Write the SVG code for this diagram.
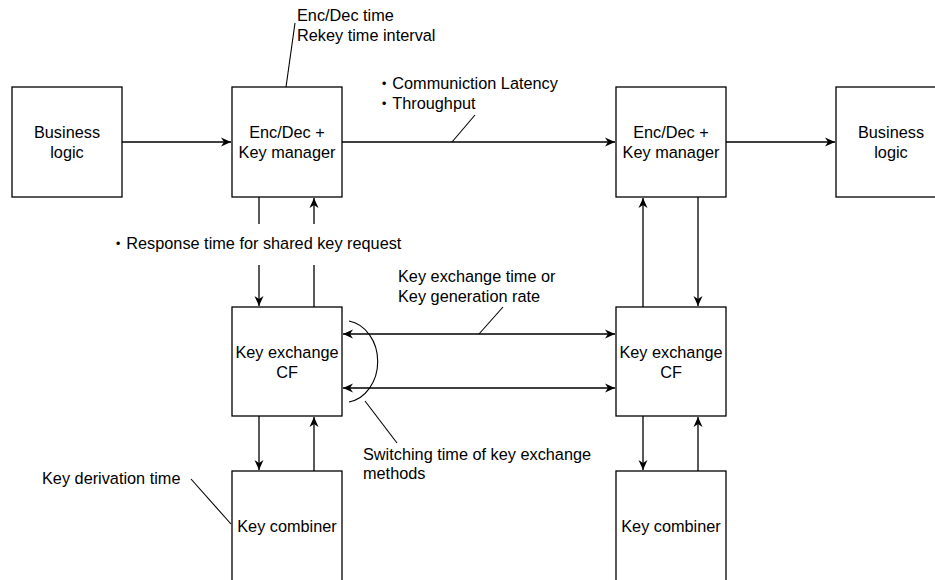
<svg xmlns="http://www.w3.org/2000/svg" width="935" height="580" viewBox="0 0 935 580">
<style>
  .box { fill: #ffffff; stroke: #000000; stroke-width: 1.3; }
  .edge { fill: none; stroke: #000000; stroke-width: 1.3; }
  .lead { fill: none; stroke: #000000; stroke-width: 1.1; }
  text { font-family: "Liberation Sans", Arial, "Noto Sans CJK JP", sans-serif; font-size: 16.3px; fill: #000000; }
  .c { text-anchor: middle; }
</style>
<defs>
  <marker id="ah" markerUnits="userSpaceOnUse" markerWidth="12" markerHeight="10" refX="10" refY="5" orient="auto-start-reverse" viewBox="0 0 12 10">
    <path d="M0,0.5 L10,5 L0,9.5 L3,5 Z" fill="#000000"/>
  </marker>
</defs>
<rect width="935" height="580" fill="#ffffff"/>

<g id="connectors">
  <line class="edge" x1="122" y1="142" x2="231" y2="142" marker-end="url(#ah)"/>
  <line class="edge" x1="342" y1="142" x2="615" y2="142" marker-end="url(#ah)"/>
  <line class="edge" x1="726" y1="142" x2="835" y2="142" marker-end="url(#ah)"/>
  <line class="edge" x1="259" y1="197" x2="259" y2="224"/>
  <line class="edge" x1="259" y1="265" x2="259" y2="306" marker-end="url(#ah)"/>
  <line class="edge" x1="314" y1="307" x2="314" y2="265"/>
  <line class="edge" x1="314" y1="224" x2="314" y2="198" marker-end="url(#ah)"/>
  <line class="edge" x1="643" y1="307" x2="643" y2="198" marker-end="url(#ah)"/>
  <line class="edge" x1="698" y1="197" x2="698" y2="306" marker-end="url(#ah)"/>
  <line class="edge" x1="259" y1="416" x2="259" y2="470" marker-end="url(#ah)"/>
  <line class="edge" x1="314" y1="471" x2="314" y2="417" marker-end="url(#ah)"/>
  <line class="edge" x1="643" y1="416" x2="643" y2="470" marker-end="url(#ah)"/>
  <line class="edge" x1="698" y1="471" x2="698" y2="417" marker-end="url(#ah)"/>
  <line class="edge" x1="343" y1="334" x2="615" y2="334" marker-start="url(#ah)" marker-end="url(#ah)"/>
  <line class="edge" x1="343" y1="388" x2="615" y2="388" marker-start="url(#ah)" marker-end="url(#ah)"/>
  <line class="lead" x1="295" y1="23" x2="286" y2="87"/>
  <line class="lead" x1="475" y1="115" x2="452" y2="142"/>
  <line class="lead" x1="503" y1="307" x2="479" y2="334"/>
  <path class="lead" d="M349,321 A34,41 0 0 1 349,402"/>
  <line class="lead" x1="365" y1="401" x2="397" y2="443"/>
  <line class="lead" x1="191" y1="479" x2="231" y2="524"/>
</g>

<g id="business-left">
  <rect class="box" x="12" y="87" width="110" height="110"/>
  <text class="c" x="67" y="138">Business</text>
  <text class="c" x="67" y="158">logic</text>
</g>
<g id="encdec-left">
  <rect class="box" x="232" y="87" width="110" height="110"/>
  <text class="c" x="287" y="138">Enc/Dec +</text>
  <text class="c" x="287" y="158">Key manager</text>
</g>
<g id="encdec-right">
  <rect class="box" x="616" y="87" width="110" height="110"/>
  <text class="c" x="671" y="138">Enc/Dec +</text>
  <text class="c" x="671" y="158">Key manager</text>
</g>
<g id="business-right">
  <rect class="box" x="836" y="87" width="110" height="110"/>
  <text class="c" x="891" y="138">Business</text>
  <text class="c" x="891" y="158">logic</text>
</g>
<g id="keyx-left">
  <rect class="box" x="232" y="307" width="110" height="109"/>
  <text class="c" x="287" y="358">Key exchange</text>
  <text class="c" x="287" y="378">CF</text>
</g>
<g id="keyx-right">
  <rect class="box" x="616" y="307" width="110" height="109"/>
  <text class="c" x="671" y="358">Key exchange</text>
  <text class="c" x="671" y="378">CF</text>
</g>
<g id="comb-left">
  <rect class="box" x="232" y="471" width="110" height="110"/>
  <text class="c" x="287" y="532">Key combiner</text>
</g>
<g id="comb-right">
  <rect class="box" x="616" y="471" width="110" height="110"/>
  <text class="c" x="671" y="532">Key combiner</text>
</g>

<g id="labels">
  <text x="297" y="21">Enc/Dec time</text>
  <text x="297" y="41">Rekey time interval</text>
  <text x="376" y="89">・Communiction Latency</text>
  <text x="376" y="109">・Throughput</text>
  <text x="110" y="249">・Response time for shared key request</text>
  <text x="398" y="282">Key exchange time or</text>
  <text x="398" y="302">Key generation rate</text>
  <text x="363" y="460">Switching time of key exchange</text>
  <text x="363" y="479">methods</text>
  <text x="42" y="484">Key derivation time</text>
</g>
</svg>
